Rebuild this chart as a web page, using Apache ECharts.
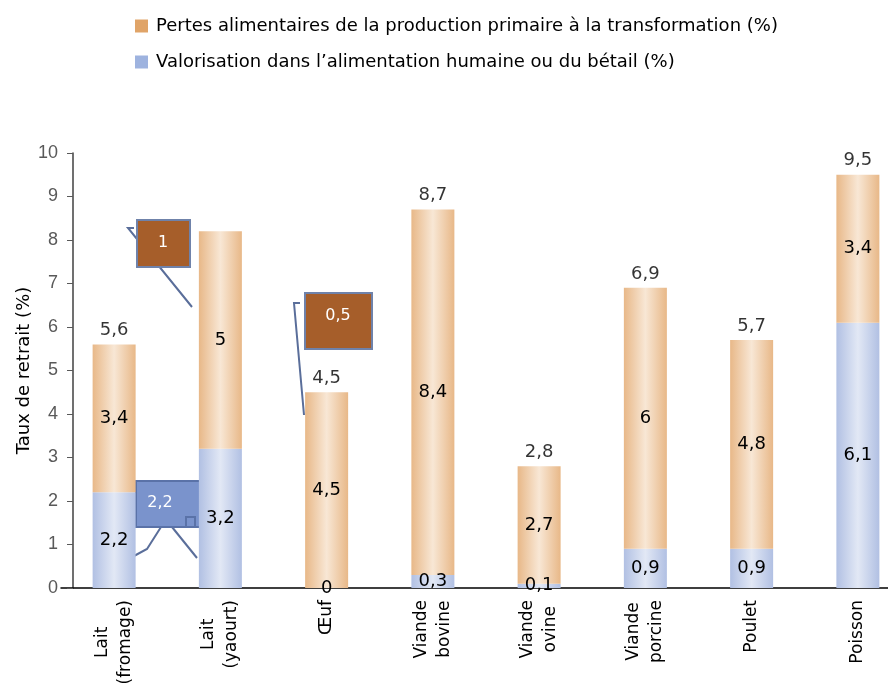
<!DOCTYPE html>
<html>
<head>
<meta charset="utf-8">
<script src="https://cdn.jsdelivr.net/npm/echarts@6/dist/echarts.min.js"></script>
<style>
html, body { margin: 0; padding: 0; background: #fff; }
#chart { width: 888px; height: 689px; }
</style>
</head>
<body>
<div id="chart"></div>
<script>
// catégories et valeurs
var categories = ['Lait\n(fromage)', 'Lait\n(yaourt)', 'Œuf', 'Viande\nbovine', 'Viande\novine', 'Viande\nporcine', 'Poulet', 'Poisson'];
var valorisation = [2.2, 3.2, 0, 0.3, 0.1, 0.9, 0.9, 6.1];
var pertes = [3.4, 5, 4.5, 8.4, 2.7, 6, 4.8, 3.4];
var totaux = [5.6, '-', 4.5, 8.7, 2.8, 6.9, 5.7, 9.5];
var yTicks = [0, 1, 2, 3, 4, 5, 6, 7, 8, 9, 10];

var nomPertes = 'Pertes alimentaires de la production primaire à la transformation (%)';
var nomValo = 'Valorisation dans l\u2019alimentation humaine ou du bétail (%)';
var police = '"DejaVu Sans", Verdana, sans-serif';
var policeArial = '"Liberation Sans", Arial, sans-serif';

// format décimal à la française
function virgule(v) {
	return String(v).replace('.', ',');
}
function degrade(bord, centre) {
	return new echarts.graphic.LinearGradient(0, 0, 1, 0, [
		{ offset: 0, color: bord },
		{ offset: 0.5, color: centre },
		{ offset: 1, color: bord }
	]);
}

var myChart = echarts.init(document.getElementById('chart'));
var labelStyle = {
	show: true,
	position: 'inside',
	color: '#000',
	fontFamily: police,
	fontSize: 18,
	formatter: function(p) { return virgule(p.value); }
};

var option = {
	animation: false,
	textStyle: { fontFamily: police },
	legend: {
		orient: 'vertical',
		left: 130,
		top: 12,
		itemWidth: 13,
		itemHeight: 13,
		itemGap: 18,
		icon: 'rect',
		textStyle: { fontSize: 18, color: '#000', fontFamily: police, padding: [0, 0, 0, 3] },
		data: [
			{ name: nomPertes, itemStyle: { color: '#E0A468' } },
			{ name: nomValo, itemStyle: { color: '#9EB3DF' } }
		]
	},
	grid: {
		left: 61,
		top: 153,
		width: 850,
		bottom: 101,
		outerBoundsMode: 'none'
	},
	xAxis: {
		type: 'category',
		data: categories,
		axisLine: { lineStyle: { color: '#000', width: 1.5 } },
		axisTick: { show: false },
		axisLabel: {
			rotate: 90,
			margin: 12,
			interval: 0,
			color: '#000',
			fontSize: 17,
			formatter: function(v) {
				return v.split('\n').map(function(s) { return '{c|' + s + '}'; }).join('\n');
			},
			rich: {
				c: { align: 'center', fontSize: 17, color: '#000', fontFamily: police, lineHeight: 23 }
			}
		}
	},
	yAxis: {
		type: 'value',
		min: 0,
		max: 10,
		interval: 1,
		offset: -12,
		name: 'Taux de retrait (%)',
		nameLocation: 'middle',
		nameGap: 40,
		nameMoveOverlap: false,
		nameTextStyle: { fontSize: 18, color: '#000', fontFamily: police },
		axisLine: { show: true, lineStyle: { color: '#404040', width: 1.5 } },
		axisTick: { show: true, length: 6, lineStyle: { color: '#595959' } },
		splitLine: { show: false },
		axisLabel: {
			margin: 15,
			fontSize: 18,
			fontFamily: policeArial,
			color: '#595959',
			formatter: function(v) { return yTicks.indexOf(v) >= 0 ? String(v) : ''; }
		}
	},
	series: [
		{
			name: nomValo,
			type: 'bar',
			stack: 'total',
			barWidth: 43,
			itemStyle: { color: degrade('#B1C0E3', '#E2E8F5') },
			label: labelStyle,
			data: valorisation
		},
		{
			name: nomPertes,
			type: 'bar',
			stack: 'total',
			barWidth: 43,
			itemStyle: { color: degrade('#E8B888', '#F8E7D5') },
			label: labelStyle,
			data: pertes
		},
		{
			name: 'Total',
			type: 'scatter',
			symbolSize: 0,
			itemStyle: { color: '#000' },
			label: {
				show: true,
				position: 'top',
				distance: 5,
				color: '#000',
				fontFamily: police,
				fontSize: 18,
				formatter: function(p) { return virgule(p.value); }
			},
			data: totaux
		}
	],
	// bulles d'annotation laissées sur le graphique
	graphic: [
		{ type: 'polyline', shape: { points: [[134, 228], [128, 228], [192, 307]] }, style: { stroke: '#5A6E9A', lineWidth: 2, fill: null } },
		{ type: 'rect', shape: { x: 137, y: 220, width: 53, height: 47 }, style: { fill: '#A65E2A', stroke: '#6F82AA', lineWidth: 2 } },
		{ type: 'text', x: 163, y: 243, style: { text: '1', fill: '#fff', font: '16px "DejaVu Sans", sans-serif', align: 'center', verticalAlign: 'middle' } },

		{ type: 'polyline', shape: { points: [[300, 303], [294, 303], [304, 415]] }, style: { stroke: '#5A6E9A', lineWidth: 2, fill: null } },
		{ type: 'rect', shape: { x: 305, y: 293, width: 67, height: 56 }, style: { fill: '#A65E2A', stroke: '#6F82AA', lineWidth: 2 } },
		{ type: 'text', x: 338, y: 316, style: { text: '0,5', fill: '#fff', font: '16px "DejaVu Sans", sans-serif', align: 'center', verticalAlign: 'middle' } },

		{ type: 'polyline', shape: { points: [[161, 527], [147, 549], [134, 556]] }, style: { stroke: '#5A6E9A', lineWidth: 2, fill: null } },
		{ type: 'polyline', shape: { points: [[172, 527], [197, 558]] }, style: { stroke: '#5A6E9A', lineWidth: 2, fill: null } },
		{ type: 'rect', shape: { x: 136, y: 481, width: 68, height: 46 }, style: { fill: '#7A93CC', stroke: '#5A72A8', lineWidth: 2 } },
		{ type: 'rect', shape: { x: 186, y: 517, width: 9, height: 10 }, style: { fill: 'none', stroke: '#5A72A8', lineWidth: 2 } },
		{ type: 'text', x: 160, y: 503, style: { text: '2,2', fill: '#fff', font: '16px "DejaVu Sans", sans-serif', align: 'center', verticalAlign: 'middle' } }
	]
};
myChart.setOption(option);
</script>
</body>
</html>
